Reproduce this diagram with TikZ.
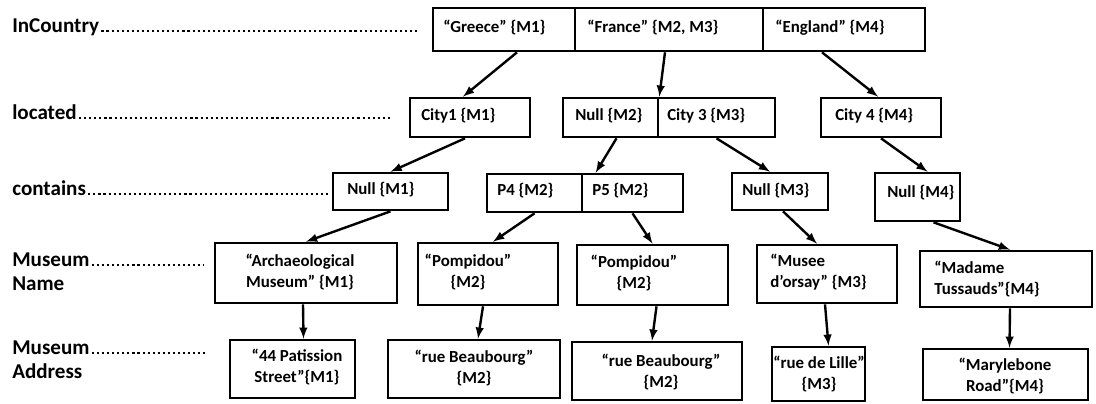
\documentclass[tikz,border=0pt]{standalone}
\usepackage{fontspec}
\setmainfont{Carlito}
\definecolor{color1}{RGB}{255,255,255}
\definecolor{color2}{RGB}{0,0,0}
\tikzset{
	cellbox/.style={draw=color2, fill=color1, line width=1.9pt, inner sep=0pt},
	celltext/.style={font=\fontsize{12}{15}\selectfont\bfseries, inner sep=0pt},
	rowlabel/.style={font=\fontsize{15}{19}\selectfont\bfseries, inner sep=0pt, anchor=base west},
	leader/.style={color=color2, line width=1.5pt, dash pattern=on 1.5pt off 2.1pt},
	link/.style={color=color2, line width=1.7pt, -latex},
}

\begin{document}
\begin{tikzpicture}
	\useasboundingbox (0cm,0cm) rectangle (27.4cm,-10.075cm);
	% row labels
	\node[rowlabel] (lbl1) at (0.3cm,-0.8cm) {InCountry};
	\node[rowlabel] (lbl2) at (0.3cm,-2.975cm) {located};
	\node[rowlabel] (lbl3) at (0.3cm,-4.875cm) {contains};
	\node[rowlabel] (lbl4) at (0.3cm,-6.65cm) {Museum};
	\node[rowlabel] (lbl5) at (0.3cm,-7.25cm) {Name};
	\node[rowlabel] (lbl6) at (0.3cm,-8.85cm) {Museum};
	\node[rowlabel] (lbl7) at (0.3cm,-9.45cm) {Address};
	\coordinate (lead1) at (10.45cm,0cm);
	\coordinate (lead2) at (9.775cm,0cm);
	\coordinate (lead3) at (8.2cm,0cm);
	\coordinate (lead4) at (5.1cm,0cm);
	\coordinate (lead6) at (5.15cm,0cm);
	\foreach \l/\e in {lbl1/lead1, lbl2/lead2, lbl3/lead3, lbl4/lead4, lbl6/lead6} {
		\draw[leader] ([shift={(1.5pt,0.8pt)}]\l.base east) -- ([yshift=0.8pt]\l.base east -| \e);
	}
	% InCountry
	\node[cellbox, minimum width=3.55cm, minimum height=1.075cm] (greece) at (12.6cm,-0.7375cm) {};
	\node[cellbox, minimum width=4.7cm, minimum height=1.075cm] (france) at (16.725cm,-0.7375cm) {};
	\node[cellbox, minimum width=4.05cm, minimum height=1.075cm] (england) at (21.1cm,-0.7375cm) {};
	\node[celltext, anchor=west] (greecet) at (11.075cm,-0.7cm) {“Greece” \{M1\}};
	\node[celltext, anchor=west] (francet) at (14.675cm,-0.7cm) {“France” \{M2, M3\}};
	\node[celltext, anchor=west] (englandt) at (19.375cm,-0.7cm) {“England” \{M4\}};
	% located
	\node[cellbox, minimum width=3.0cm, minimum height=0.975cm] (city1) at (11.75cm,-2.9375cm) {};
	\node[cellbox, minimum width=2.375cm, minimum height=0.975cm] (null2) at (15.2625cm,-2.9375cm) {};
	\node[cellbox, minimum width=2.925cm, minimum height=0.975cm] (city3) at (17.9125cm,-2.9375cm) {};
	\node[cellbox, minimum width=3.0cm, minimum height=0.975cm] (city4) at (22.025cm,-2.9375cm) {};
	\node[celltext, anchor=west] (city1t) at (10.525cm,-2.9cm) {City1 \{M1\}};
	\node[celltext, anchor=west] (null2t) at (14.375cm,-2.9cm) {Null \{M2\}};
	\node[celltext, anchor=west] (city3t) at (16.675cm,-2.9cm) {City 3 \{M3\}};
	\node[celltext, anchor=west] (city4t) at (20.875cm,-2.9cm) {City 4 \{M4\}};
	% contains
	\node[cellbox, minimum width=2.875cm, minimum height=0.925cm] (nullA) at (9.7625cm,-4.7875cm) {};
	\node[cellbox, minimum width=2.375cm, minimum height=0.95cm] (p4) at (13.3625cm,-4.825cm) {};
	\node[cellbox, minimum width=2.525cm, minimum height=0.95cm] (p5) at (15.8125cm,-4.825cm) {};
	\node[cellbox, minimum width=2.4cm, minimum height=0.925cm] (nullC) at (19.5cm,-4.7875cm) {};
	\node[cellbox, minimum width=2.125cm, minimum height=1.2cm] (nullD) at (22.9375cm,-4.925cm) {};
	\node[celltext, anchor=west] (nullAt) at (8.675cm,-4.75cm) {Null \{M1\}};
	\node[celltext, anchor=west] (p4t) at (12.425cm,-4.775cm) {P4 \{M2\}};
	\node[celltext, anchor=west] (p5t) at (14.8cm,-4.775cm) {P5 \{M2\}};
	\node[celltext, anchor=west] (nullCt) at (18.55cm,-4.775cm) {Null \{M3\}};
	\node[celltext, anchor=west] (nullDt) at (22.175cm,-4.825cm) {Null \{M4\}};
	% Museum Name
	\node[cellbox, minimum width=4.55cm, minimum height=1.5cm] (arch) at (7.65cm,-6.825cm) {};
	\node[cellbox, minimum width=3.5cm, minimum height=1.55cm] (pomp1) at (12.2cm,-6.85cm) {};
	\node[cellbox, minimum width=3.775cm, minimum height=1.5cm] (pomp2) at (16.3125cm,-6.875cm) {};
	\node[cellbox, minimum width=3.5cm, minimum height=1.45cm] (musee) at (20.675cm,-6.85cm) {};
	\node[cellbox, minimum width=4.3cm, minimum height=1.4cm] (madame) at (25.15cm,-6.975cm) {};
	\node[celltext, align=center] (archt) at (7.5cm,-6.8cm) {“Archaeological\\Museum” \{M1\}};
	\node[celltext, align=center] (pomp1t) at (11.7cm,-6.8cm) {“Pompidou”\\\{M2\}};
	\node[celltext, align=center] (pomp2t) at (15.85cm,-6.825cm) {“Pompidou”\\\{M2\}};
	\node[celltext, align=left, anchor=west] (mueset) at (19.25cm,-6.8cm) {“Musee\\d’orsay” \{M3\}};
	\node[celltext, align=left, anchor=west] (madamet) at (23.35cm,-6.975cm) {“Madame\\Tussauds”\{M4\}};
	% Museum Address
	\node[cellbox, minimum width=3.125cm, minimum height=1.45cm] (patis) at (7.3125cm,-9.225cm) {};
	\node[cellbox, minimum width=4.3cm, minimum height=1.45cm] (rueb1) at (11.85cm,-9.225cm) {};
	\node[cellbox, minimum width=4.25cm, minimum height=1.45cm] (rueb2) at (16.425cm,-9.275cm) {};
	\node[cellbox, minimum width=2.325cm, minimum height=1.35cm] (lille) at (20.4625cm,-9.35cm) {};
	\node[cellbox, minimum width=4.125cm, minimum height=1.275cm] (maryl) at (25.1375cm,-9.3625cm) {};
	\node[celltext, align=center] (patist) at (7.425cm,-9.175cm) {“44 Patission\\Street”\{M1\}};
	\node[celltext, align=center] (rueb1t) at (11.85cm,-9.2cm) {“rue Beaubourg”\\\{M2\}};
	\node[celltext, align=center] (rueb2t) at (16.525cm,-9.3cm) {“rue Beaubourg”\\\{M2\}};
	\node[celltext, align=center] (lillet) at (20.475cm,-9.35cm) {“rue de Lille”\\\{M3\}};
	\node[celltext, align=center] (marylt) at (25.125cm,-9.4cm) {“Marylebone\\Road”\{M4\}};
	% links
	\draw[link] ([xshift=0.325cm]greece.south) -- ([xshift=-0.175cm]city1.north);
	\draw[link] ([xshift=-0.1cm]france.south) -- (null2.north east);
	\draw[link] ([xshift=-0.55cm]england.south) -- ([xshift=-0.075cm]city4.north);
	\draw[link] ([xshift=-0.125cm]city1.south) -- (nullA.north);
	\draw[link] ([xshift=0.15cm]null2.south) -- ([xshift=0.375cm]p5.north west);
	\draw[link] (city3.south) -- ([xshift=-0.25cm]nullC.north);
	\draw[link] (city4.south) -- ([xshift=0.25cm]nullD.north);
	\draw[link] (nullA.south) -- (arch.north);
	\draw[link] (p4.south) -- ([xshift=0.125cm]pomp1.north);
	\draw[link] (p5.south) -- (pomp2.north);
	\draw[link] ([xshift=0.075cm]nullC.south) -- ([xshift=-0.25cm]musee.north);
	\draw[link] ([xshift=0.4cm]nullD.south) -- ([xshift=0.1cm]madame.north);
	\draw[link] ([xshift=-0.075cm]arch.south) -- ([xshift=0.275cm]patis.north);
	\draw[link] ([xshift=-0.125cm]pomp1.south) -- ([xshift=0.1cm]rueb1.north);
	\draw[link] ([xshift=0.1cm]pomp2.south) -- ([xshift=-0.125cm]rueb2.north);
	\draw[link] ([xshift=-0.05cm]musee.south) -- ([xshift=0.25cm]lille.north);
	\draw[link] ([xshift=0.1cm]madame.south) -- ([xshift=0.1cm]maryl.north);
\end{tikzpicture}
\end{document}
